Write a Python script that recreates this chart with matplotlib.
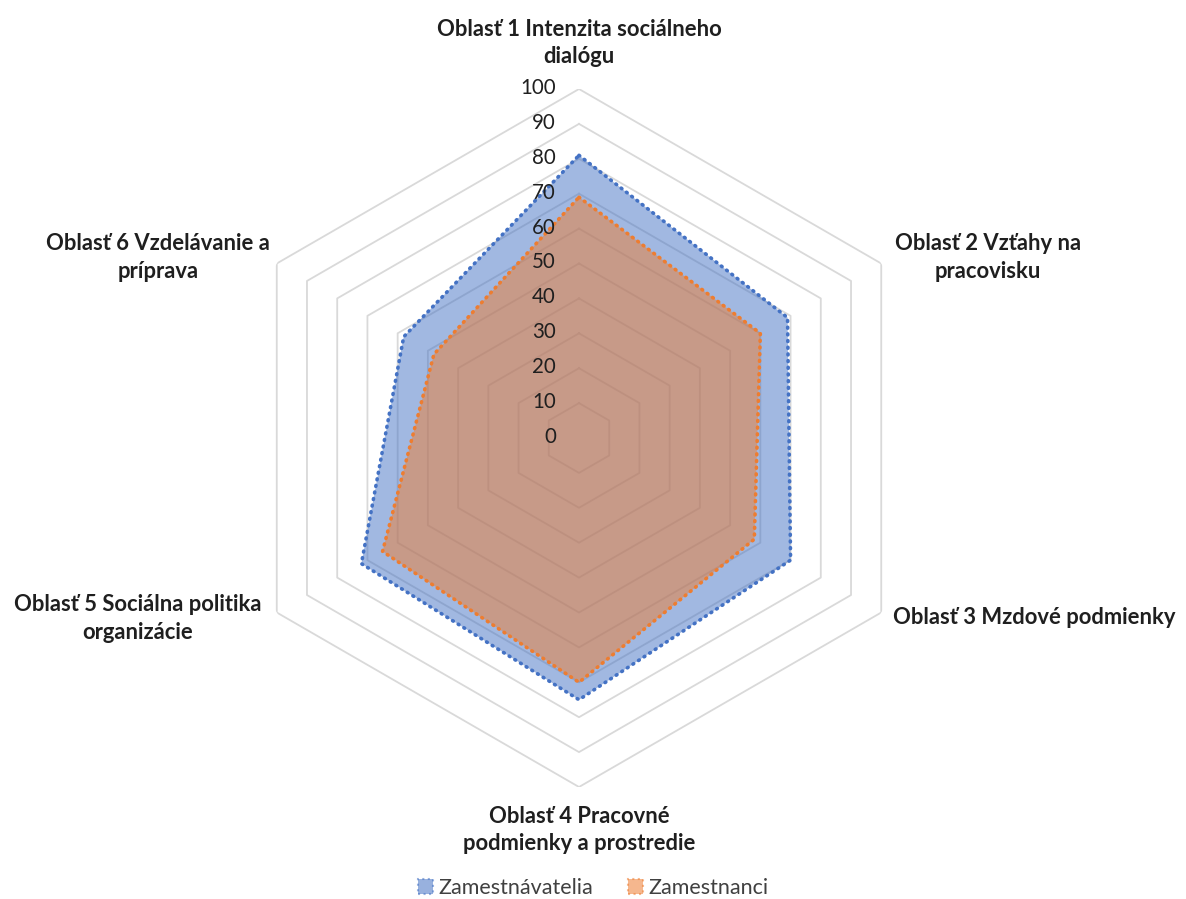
import numpy as np
import matplotlib
matplotlib.use("Agg")
import matplotlib.pyplot as plt
from matplotlib.patches import Patch

plt.rcParams['font.family'] = ['Lato', 'DejaVu Sans']

categories = [
    "Oblasť 1 Intenzita sociálneho\ndialógu",
    "Oblasť 2 Vzťahy na\npracovisku",
    "Oblasť 3 Mzdové podmienky",
    "Oblasť 4 Pracovné\npodmienky a prostredie",
    "Oblasť 5 Sociálna politika\norganizácie",
    "Oblasť 6 Vzdelávanie a\npríprava",
]
zamestnavatelia = [81, 69, 70, 75, 72, 58]
zamestnanci = [69, 60, 58, 70, 65, 48]
series_names = ["Zamestnávatelia", "Zamestnanci"]
ring_levels = [0, 10, 20, 30, 40, 50, 60, 70, 80, 90, 100]

BLUE = "#4472C4"
ORANGE = "#ED7D31"
GRID = "#D9D9D9"
TEXT = "#1F1F1F"

W, H = 1186, 899
fig = plt.figure(figsize=(W / 100, H / 100), dpi=100)

cx, cy, rad = 579, 438, 349
ax = fig.add_axes([(cx - rad) / W, (H - cy - rad) / H, 2 * rad / W, 2 * rad / H],
                  projection="polar")
ax.set_theta_zero_location("N")
ax.set_theta_direction(-1)
ax.set_ylim(0, 100)
ax.grid(False)
ax.spines["polar"].set_visible(False)
ax.set_xticks([])
ax.set_yticks([])
ax.patch.set_alpha(0)

n = len(categories)
theta = np.linspace(0, 2 * np.pi, n, endpoint=False)
theta_c = np.append(theta, theta[0])

# hexagonal grid rings
for lv in ring_levels[1:]:
    ax.plot(theta_c, [lv] * (n + 1), color=GRID, lw=1.3, zorder=1)

# value labels along the first axis
for lv in ring_levels:
    ax.annotate(str(lv), xy=(0, lv), xytext=(-23, 1), textcoords="offset pixels",
                ha="right", va="center", fontsize=14.8, color=TEXT, zorder=5)

# series: translucent fill with a round-dotted outline
for vals, col in [(zamestnavatelia, BLUE), (zamestnanci, ORANGE)]:
    v = np.append(vals, vals[0])
    ax.fill(theta_c, v, color=col, alpha=0.5, lw=0, zorder=2)
    ax.plot(theta_c, v, color=col, lw=2.6, linestyle=(0, (0.25, 1.6)),
            dash_capstyle="round", zorder=3)

# category labels around the outer ring
label_pos = [
    ((0, 46), "center"),
    ((107, 6), "center"),
    ((12, -5), "left"),
    ((0, -43), "center"),
    ((-139, -6), "center"),
    ((-119, 6), "center"),
]
for i, (lab, ((dx, dy), ha)) in enumerate(zip(categories, label_pos)):
    ax.annotate(lab, xy=(theta[i], 100), xytext=(dx, dy), textcoords="offset pixels",
                ha=ha, va="center", fontsize=15.8, fontweight="bold", color=TEXT,
                linespacing=1.4, annotation_clip=False)

handles = [
    Patch(facecolor=BLUE, alpha=0.55, edgecolor=BLUE, linestyle=":", linewidth=1.5),
    Patch(facecolor=ORANGE, alpha=0.55, edgecolor=ORANGE, linestyle=":", linewidth=1.5),
]
fig.legend(handles, series_names, loc="center", bbox_to_anchor=(0.5, 1 - 888 / H),
           ncol=2, frameon=False, fontsize=15.5, handlelength=0.7, handleheight=0.7,
           handletextpad=0.25, columnspacing=1.6, labelcolor="#404040")

fig.savefig("out.png", dpi=100, facecolor="white")
